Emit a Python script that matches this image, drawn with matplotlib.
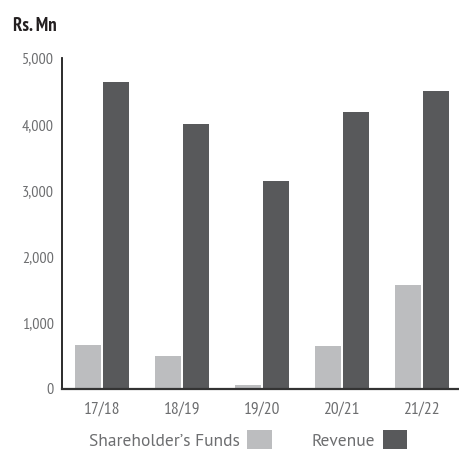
import matplotlib
matplotlib.use("Agg")
import matplotlib.pyplot as plt
from matplotlib.patches import Patch
import numpy as np

categories = ["17/18", "18/19", "19/20", "20/21", "21/22"]
shareholders_funds = [658, 492, 53, 643, 1566]
revenue = [4637, 4002, 3139, 4183, 4501]
y_ticks = [0, 1000, 2000, 3000, 4000, 5000]
y_tick_labels = ["0", "1,000", "2,000", "3,000", "4,000", "5,000"]

narrow = ["PT Sans Narrow", "DejaVu Sans"]
legend_font = ["PT Sans", "DejaVu Sans"]

light = "#bcbdbf"
dark = "#58595b"
txt = "#6d6e70"

fig = plt.figure(figsize=(4.6, 4.5), dpi=100)
ax = fig.add_axes([62/460, 1 - 389/450, 1 - 62/460, (389 - 58)/450])

x = np.arange(len(categories))
w = 0.325
off = 0.175
ax.bar(x - off, shareholders_funds, width=w, color=light, label="Shareholder\u2019s Funds")
ax.bar(x + off, revenue, width=w, color=dark, label="Revenue")

ax.set_xlim(-0.5, 4.48)
ax.set_ylim(0, 5000)
ax.set_yticks(y_ticks)
ax.set_yticklabels(y_tick_labels, family=narrow, fontsize=11.5, color=txt)
ax.set_xticks(x)
ax.set_xticklabels(categories, family=narrow, fontsize=12.5, color=txt)
ax.tick_params(axis="both", length=0)
ax.tick_params(axis="y", pad=6)
ax.tick_params(axis="x", pad=9)
for s in ["top", "right"]:
    ax.spines[s].set_visible(False)
ax.spines["left"].set_color("#1a1a1a")
ax.spines["left"].set_linewidth(1.3)
ax.spines["bottom"].set_color("#333333")
ax.spines["bottom"].set_linewidth(1.6)

fig.text(13/460, 1 - 26/450, "Rs. Mn", family=narrow, fontsize=13.5, weight="bold",
         color="#231f20", va="center", ha="left")

handles = [Patch(facecolor=light, edgecolor="none"), Patch(facecolor=dark, edgecolor="none")]
leg = fig.legend(handles, ["Shareholder\u2019s Funds", "Revenue"], ncol=2, markerfirst=False,
                 loc="center", bbox_to_anchor=(248/460, 1 - 440/450), frameon=False,
                 handlelength=1.4, handleheight=1.25, handletextpad=0.45, columnspacing=2.3,
                 borderpad=0, prop={"family": legend_font, "size": 12.5})
for t in leg.get_texts():
    t.set_color(txt)

fig.savefig("out.png", dpi=100)
